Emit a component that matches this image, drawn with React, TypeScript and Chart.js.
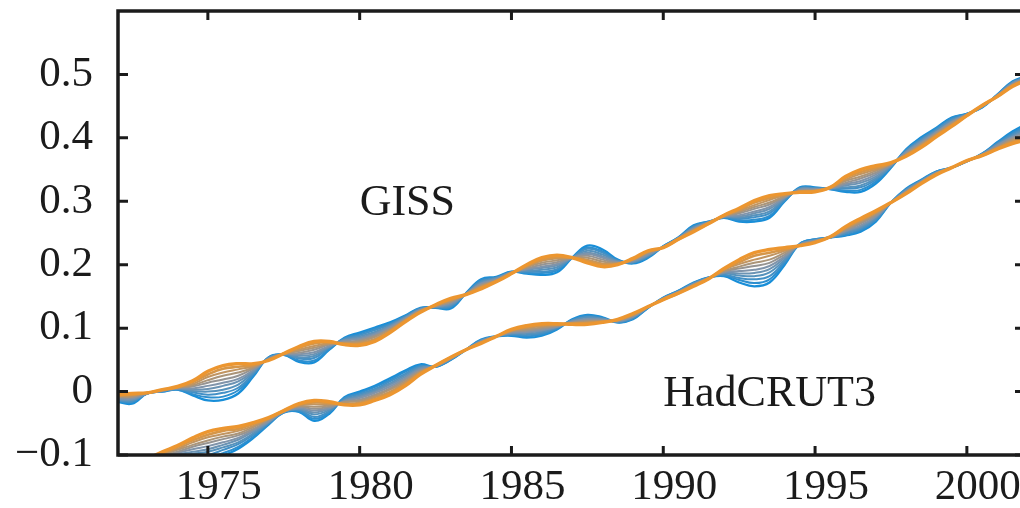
import React, { useEffect, useRef } from "react";
import { Chart, registerables } from "chart.js";

Chart.register(...registerables);

// ---------- data (anomalies in millikelvin) ----------
const years = [
  1972, 1972.5, 1973, 1973.5, 1974, 1974.5, 1975, 1975.5, 1976, 1976.5,
  1977, 1977.5, 1978, 1978.5, 1979, 1979.5, 1980, 1980.5, 1981, 1981.5,
  1982, 1982.5, 1983, 1983.5, 1984, 1984.5, 1985, 1985.5, 1986, 1986.5,
  1987, 1987.5, 1988, 1988.5, 1989, 1989.5, 1990, 1990.5, 1991, 1991.5,
  1992, 1992.5, 1993, 1993.5, 1994, 1994.5, 1995, 1995.5, 1996, 1996.5,
  1997, 1997.5, 1998, 1998.5, 1999, 1999.5, 2000, 2000.5, 2001, 2001.5,
  2002,
];

// GISS: K10 = bluest (least smoothed) ... K0 = orange (most smoothed)
const gissK10 = [-16,-19,-3,0,3, -6,-14,-13,-3,24, 54,58,47,46,66, 85,93,101,109,120, 132,132,131,155,177, 181,189,186,184,188, 211,230,224,208,202, 211,229,243,262,268, 274,268,268,274,300, 322,322,319,315,315, 328,353,382,401,416, 432,438,448,468,489, 498];
const gissK9 = [-15,-17,-3,0,3, -4,-9,-8,2,26, 54,58,49,49,67, 84,91,99,107,119, 131,132,133,155,176, 180,189,187,187,191, 211,227,221,207,203, 212,229,243,261,268, 274,270,271,277,301, 321,321,319,317,318, 331,354,381,399,415, 431,438,448,468,488, 497];
const gissK8 = [-14,-16,-3,1,4, -1,-5,-2,6,28, 53,58,52,53,69, 83,89,97,106,118, 131,133,134,155,174, 179,188,189,189,193, 211,225,219,206,204, 213,229,242,260,267, 275,272,275,281,302, 320,321,320,320,322, 334,355,380,398,413, 429,437,449,467,487, 497];
const gissK7 = [-13,-14,-3,1,4, 1,0,3,11,30, 53,59,54,56,70, 82,87,94,104,117, 130,133,136,154,173, 179,188,190,192,196, 211,222,216,206,204, 214,228,242,259,267, 275,274,278,284,304, 320,320,320,322,325, 336,355,379,396,412, 428,437,449,467,487, 496];
const gissK6 = [-12,-13,-3,1,5, 3,4,9,16,32, 52,59,57,59,71, 81,85,92,103,116, 129,134,137,154,171, 178,188,192,195,199, 211,219,213,205,205, 215,228,242,258,267, 276,276,281,288,305, 319,319,320,325,329, 339,356,378,395,410, 426,437,449,467,486, 496];
const gissK5 = [-11,-11,-3,1,5, 5,9,14,20,34, 52,59,59,62,72, 80,83,90,101,115, 129,134,139,154,170, 177,188,193,197,201, 211,217,211,204,206, 216,228,242,257,267, 276,278,284,291,306, 318,319,320,327,332, 342,357,377,393,409, 425,437,449,467,485, 495];
const gissK4 = [-9,-9,-2,2,6, 8,14,19,25,36, 51,59,61,66,74, 78,81,88,99,114, 128,135,141,154,168, 176,187,194,200,204, 211,214,208,203,207, 218,228,241,256,266, 276,281,288,295,307, 317,318,321,329,336, 345,358,375,391,408, 424,436,450,466,484, 494];
const gissK3 = [-8,-8,-2,2,6, 10,18,25,30,38, 51,59,64,69,75, 77,79,86,98,113, 127,135,142,154,167, 175,187,196,203,207, 211,211,205,202,208, 219,228,241,255,266, 277,283,291,298,308, 316,317,321,332,339, 348,359,374,390,406, 422,436,450,466,483, 494];
const gissK2 = [-7,-6,-2,2,7, 12,23,30,35,40, 50,60,66,72,76, 76,77,83,96,112, 126,136,144,153,165, 175,187,197,206,210, 211,208,202,202,208, 220,227,241,254,266, 277,285,294,302,310, 316,316,321,334,343, 350,359,373,388,405, 421,436,450,466,483, 493];
const gissK1 = [-6,-5,-2,3,7, 15,27,36,39,42, 50,60,69,76,78, 75,75,81,95,111, 126,136,145,153,164, 174,186,199,208,212, 211,206,200,201,209, 221,227,240,253,265, 278,287,298,305,311, 315,316,322,337,346, 353,360,372,387,403, 419,435,451,465,482, 493];
const gissK0 = [-5,-3,-2,3,8, 17,32,41,44,44, 49,60,71,79,79, 74,73,79,93,110, 125,137,147,153,162, 173,186,200,211,215, 211,203,197,200,210, 222,227,240,252,265, 278,289,301,309,312, 314,315,322,339,350, 356,361,371,385,402, 418,435,451,465,481, 492];

// HadCRUT3: K10 = bluest ... K0 = orange
const hadK10 = [-132,-126,-120,-112,-109, -109,-109,-101,-90,-73, -52,-33,-32,-46,-35, -9,0,9,21,33, 43,39,50,66,82, 87,88,85,88,98, 114,121,117,109,114, 132,148,159,172,180, 182,172,166,172,200, 233,240,243,246,252, 268,298,320,334,347, 353,363,375,393,410, 423];
const hadK9 = [-131,-125,-119,-110,-107, -105,-104,-97,-87,-71, -51,-33,-31,-43,-33, -10,-2,7,18,31, 41,39,50,66,81, 87,89,87,90,99, 113,120,116,109,115, 132,148,159,171,180, 183,176,171,177,203, 233,240,243,247,254, 270,298,319,333,347, 353,363,375,392,408, 420];
const hadK8 = [-130,-124,-117,-109,-104, -102,-100,-92,-83,-68, -50,-32,-29,-40,-31, -11,-4,4,16,28, 40,39,51,66,81, 87,90,89,92,100, 112,118,115,110,116, 132,147,158,171,180, 184,179,177,182,205, 232,239,243,249,256, 271,298,318,333,346, 353,363,374,391,406, 418];
const hadK7 = [-129,-123,-116,-107,-102, -98,-95,-88,-80,-66, -49,-32,-28,-36,-29, -13,-6,2,13,26, 38,40,51,66,80, 87,91,91,94,101, 112,117,115,110,117, 133,147,158,170,179, 186,183,182,188,208, 232,239,243,250,258, 273,298,318,332,346, 353,363,374,390,404, 415];
const hadK6 = [-128,-122,-114,-105,-99, -95,-91,-84,-76,-63, -48,-32,-27,-33,-27, -14,-8,0,11,23, 37,40,52,66,80, 87,92,93,96,102, 111,115,114,111,118, 133,147,157,170,179, 187,186,187,193,211, 232,238,243,252,260, 275,298,317,332,345, 353,363,374,389,402, 413];
const hadK5 = [-128,-121,-113,-104,-97, -91,-86,-80,-73,-61, -47,-32,-26,-30,-26, -15,-10,-2,8,21, 35,40,52,66,79, 87,93,94,97,102, 110,114,113,111,118, 133,147,157,169,179, 188,190,192,198,213, 232,238,243,253,262, 276,298,316,331,345, 353,363,374,388,401, 410];
const hadK4 = [-127,-119,-112,-102,-95, -87,-81,-75,-69,-59, -45,-31,-24,-27,-24, -16,-13,-5,5,19, 33,40,52,66,78, 87,94,96,99,103, 109,112,112,112,119, 133,146,157,168,179, 189,194,198,203,216, 231,237,244,254,265, 278,298,315,330,344, 353,364,373,386,399, 407];
const hadK3 = [-126,-118,-110,-100,-92, -84,-77,-71,-66,-56, -44,-31,-23,-24,-22, -17,-15,-7,3,16, 32,40,53,66,78, 87,95,98,101,104, 108,111,111,112,120, 133,146,156,168,179, 190,197,203,208,219, 231,237,244,256,267, 280,298,314,330,344, 353,364,373,385,397, 405];
const hadK2 = [-125,-117,-109,-98,-90, -80,-72,-67,-62,-54, -43,-31,-22,-20,-20, -19,-17,-9,0,14, 30,41,53,66,77, 87,96,100,103,105, 108,109,111,113,121, 134,146,156,167,178, 192,201,208,214,222, 231,236,244,257,269, 282,298,314,329,343, 353,364,373,384,395, 402];
const hadK1 = [-124,-116,-107,-97,-87, -77,-68,-62,-59,-51, -42,-30,-20,-17,-18, -20,-19,-12,-2,11, 29,41,54,66,77, 87,97,102,105,106, 107,108,110,113,122, 134,145,155,167,178, 193,204,214,219,224, 230,236,244,259,271, 283,298,313,329,343, 353,364,372,383,393, 400];
const hadK0 = [-123,-115,-106,-95,-85, -73,-63,-58,-55,-49, -41,-30,-19,-14,-16, -21,-21,-14,-5,9, 27,41,54,66,76, 87,98,104,107,107, 106,106,109,114,123, 134,145,155,166,178, 194,208,219,224,227, 230,235,244,260,273, 285,298,312,328,342, 353,364,372,382,391, 397];

const xTickValues = [1975, 1980, 1985, 1990, 1995, 2000];
const xTickLabels = ["1975", "1980", "1985", "1990", "1995", "2000"];
const yTickValues = [-0.1, 0, 0.1, 0.2, 0.3, 0.4, 0.5];
const yTickLabels = ["\u22120.1", "0", "0.1", "0.2", "0.3", "0.4", "0.5"];

const seriesNames = ["GISS", "HadCRUT3"];
const labelYears = [1980.0, 1990.0];
const labelValues = [0.278, -0.023];

const X_MIN = 1972.04;
const X_MAX = 2001.75;
const Y_MIN = -0.1;
const Y_MAX = 0.6;

// ---------- styling ----------
const SERIF = '"Liberation Serif", "Times New Roman", serif';
const INK = "#1b1b1b";
const BLUE = [24, 142, 216];
const MID = [128, 148, 170];
const ORANGE = [236, 150, 48];

function mix(a: number[], b: number[], t: number) {
  return a.map((v, i) => Math.round(v + (b[i] - v) * t));
}
function runColor(k: number) {
  // k = 0 (orange) .. 10 (blue)
  const t = k / 10;
  const c = t <= 0.5 ? mix(ORANGE, MID, t * 2) : mix(MID, BLUE, (t - 0.5) * 2);
  return `rgb(${c[0]},${c[1]},${c[2]})`;
}
function runWidth(k: number) {
  if (k === 0) return 3.4;
  if (k === 1) return 2.6;
  if (k === 10) return 2.3;
  return 2.0;
}

const gissRuns = [gissK0, gissK1, gissK2, gissK3, gissK4, gissK5, gissK6, gissK7, gissK8, gissK9, gissK10];
const hadRuns = [hadK0, hadK1, hadK2, hadK3, hadK4, hadK5, hadK6, hadK7, hadK8, hadK9, hadK10];

const framePlugin = {
  id: "frame",
  afterDraw(chart: any) {
    const { ctx, chartArea } = chart;
    const { left, right, top, bottom } = chartArea;
    const xs = chart.scales.x;
    const ys = chart.scales.y;
    ctx.save();
    ctx.strokeStyle = INK;
    ctx.lineJoin = "miter";
    ctx.lineWidth = 3.5;
    ctx.beginPath();
    ctx.moveTo(right + 4, top);
    ctx.lineTo(left, top);
    ctx.lineTo(left, bottom);
    ctx.lineTo(right + 4, bottom);
    ctx.stroke();

    ctx.lineWidth = 3;
    ctx.beginPath();
    xTickValues.forEach((v) => {
      const px = xs.getPixelForValue(v);
      ctx.moveTo(px, bottom);
      ctx.lineTo(px, bottom - 9);
      ctx.moveTo(px, top);
      ctx.lineTo(px, top + 9);
    });
    yTickValues.forEach((v) => {
      const py = ys.getPixelForValue(v);
      ctx.moveTo(left, py);
      ctx.lineTo(left + 10, py);
      ctx.moveTo(right, py);
      ctx.lineTo(right - 5, py);
    });
    ctx.stroke();

    ctx.fillStyle = INK;
    ctx.font = `44px ${SERIF}`;
    ctx.textAlign = "left";
    ctx.textBaseline = "alphabetic";
    seriesNames.forEach((name, i) => {
      ctx.fillText(name, xs.getPixelForValue(labelYears[i]), ys.getPixelForValue(labelValues[i]));
    });
    ctx.restore();
  },
};

export default function App() {
  const ref = useRef<HTMLCanvasElement | null>(null);

  useEffect(() => {
    document.body.style.margin = "0";
    document.body.style.overflow = "hidden";
    document.body.style.background = "#ffffff";
    const canvas = ref.current;
    if (!canvas) return;

    const datasets: any[] = [];
    for (let k = 0; k <= 10; k++) {
      [gissRuns, hadRuns].forEach((runs, f) => {
        datasets.push({
          label: `${seriesNames[f]} ${k}`,
          data: years.map((yr, i) => ({ x: yr, y: runs[k][i] / 1000 })),
          borderColor: runColor(k),
          borderWidth: runWidth(k),
          pointRadius: 0,
          tension: 0.4,
          fill: false,
        });
      });
    }

    const chart = new Chart(canvas, {
      type: "line",
      data: { datasets },
      options: {
        animation: false,
        responsive: false,
        maintainAspectRatio: false,
        layout: { padding: { top: 11, left: 0, right: 0, bottom: 0 } },
        plugins: {
          legend: { display: false },
          tooltip: { enabled: false },
          title: { display: false },
        },
        scales: {
          x: {
            type: "linear",
            min: X_MIN,
            max: X_MAX,
            grid: { display: false, drawTicks: false },
            border: { display: false },
            afterBuildTicks: (s: any) => {
              s.ticks = xTickValues.map((v) => ({ value: v }));
            },
            afterFit: (s: any) => {
              s.height = 53;
              s.paddingLeft = 0;
              s.paddingRight = 0;
              s.paddingTop = 0;
              s.paddingBottom = 0;
            },
            ticks: {
              autoSkip: false,
              maxRotation: 0,
              minRotation: 0,
              padding: 7,
              labelOffset: 11,
              color: INK,
              font: { family: SERIF, size: 43 },
              callback: (_v: any, i: number) => xTickLabels[i],
            },
          },
          y: {
            type: "linear",
            min: Y_MIN,
            max: Y_MAX,
            grid: { display: false, drawTicks: false },
            border: { display: false },
            afterBuildTicks: (s: any) => {
              s.ticks = yTickValues.map((v) => ({ value: v }));
            },
            afterFit: (s: any) => {
              s.width = 118;
              s.paddingLeft = 0;
              s.paddingRight = 0;
              s.paddingTop = 0;
              s.paddingBottom = 0;
            },
            ticks: {
              autoSkip: false,
              padding: 25,
              color: INK,
              font: { family: SERIF, size: 43 },
              callback: (_v: any, i: number) => yTickLabels[i],
            },
          },
        },
      },
      plugins: [framePlugin],
    } as any);

    return () => chart.destroy();
  }, []);

  return (
    <div style={{ width: 1020, height: 508, background: "#ffffff" }}>
      <canvas ref={ref} width={1020} height={508} style={{ display: "block" }} />
    </div>
  );
}
